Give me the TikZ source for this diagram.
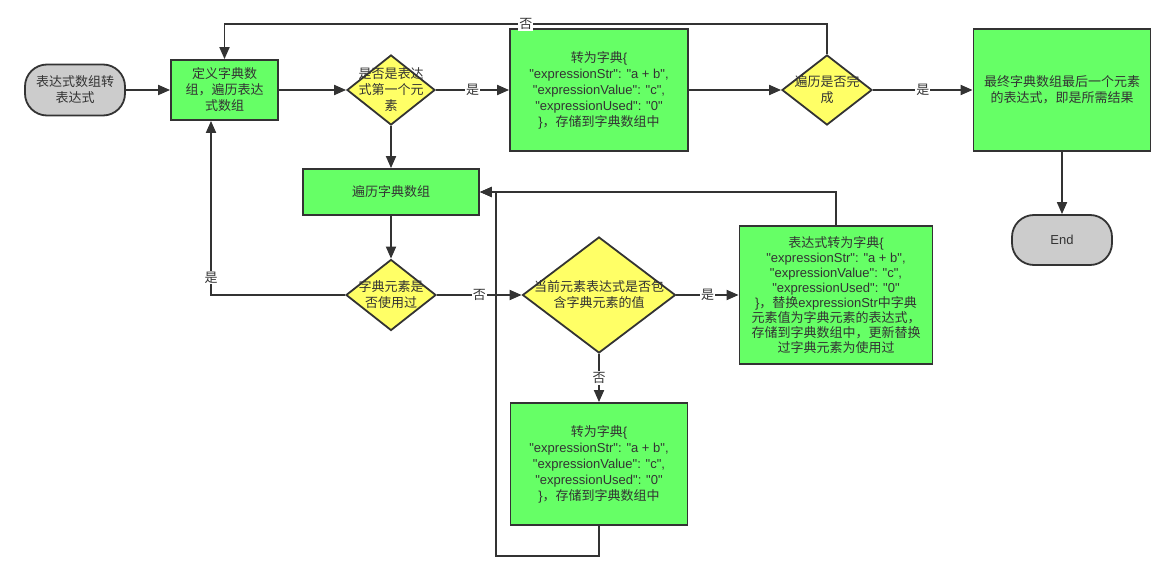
\documentclass[tikz,border=0pt]{standalone}
\usepackage{fontspec}
\setmainfont{Liberation Sans}[Ligatures=TeXOff]
\newfontfamily\cjk{Noto Sans CJK SC}
\newcommand{\C}[1]{{\cjk #1}}
\usetikzlibrary{arrows.meta,shapes.geometric}
\definecolor{gfill}{HTML}{66FF66}
\definecolor{yfill}{HTML}{FFFF66}
\definecolor{tfill}{HTML}{CCCCCC}
\definecolor{linec}{HTML}{333333}
\begin{document}
\begin{tikzpicture}[x=1pt,y=-1pt,
  font=\fontsize{13}{16}\selectfont, text=linec,
  every node/.style={line width=1.8pt, draw=linec, align=center, inner sep=0pt},
  term/.style={rectangle, rounded corners=22pt, fill=tfill},
  proc/.style={rectangle, fill=gfill},
  dia/.style={diamond, fill=yfill},
  arr/.style={draw=linec, line width=1.8pt, -{Triangle[length=12pt,width=10pt]}},
  elabel/.style={draw=none, fill=white, inner sep=1pt, font=\fontsize{13}{16}\selectfont}
]
\useasboundingbox (0,0) rectangle (1173,580);

\node[term, minimum width=100pt, minimum height=51pt] (start) at (75,90) {\C{表达式数组转}\\\C{表达式}};
\node[proc, minimum width=107pt, minimum height=60pt] (define) at (224.5,90) {\C{定义字典数}\\\C{组，遍历表达}\\\C{式数组}};
\node[dia, minimum width=88pt, minimum height=70pt,
  label={[draw=none,align=center]center:{\C{是否是表达}\\\C{式第一个元}\\\C{素}}}] (d1) at (391,90) {};
\node[proc, minimum width=178pt, minimum height=122pt] (conv1) at (599,90)
  {\C{转为字典}\{\\"expressionStr": "a + b",\\"expressionValue": "c",\\"expressionUsed": "0"\\\}\C{，存储到字典数组中}};
\node[dia, minimum width=90pt, minimum height=70pt,
  label={[draw=none,align=center]center:{\C{遍历是否完}\\\C{成}}}] (d2) at (827,90) {};
\node[proc, minimum width=177pt, minimum height=122pt] (final) at (1062,90)
  {\C{最终字典数组最后一个元素}\\\C{的表达式，即是所需结果}};
\node[term, minimum width=100pt, minimum height=50pt] (end) at (1062,240) {End};
\node[proc, minimum width=176pt, minimum height=46pt] (loop) at (391,192) {\C{遍历字典数组}};
\node[dia, minimum width=90pt, minimum height=71pt,
  label={[draw=none,align=center]center:{\C{字典元素是}\\\C{否使用过}}}] (d3) at (391,295) {};
\node[dia, minimum width=153pt, minimum height=116pt,
  label={[draw=none,align=center]center:{\C{当前元素表达式是否包}\\\C{含字典元素的值}}}] (d4) at (599,295) {};
\node[proc, minimum width=193pt, minimum height=138pt, font=\fontsize{13}{15}\selectfont] (right) at (836,295)
  {\C{表达式转为字典}\{\\"expressionStr": "a + b",\\"expressionValue": "c",\\"expressionUsed": "0"\\\}\C{，替换}expressionStr\C{中字典}\\\C{元素值为字典元素的表达式，}\\\C{存储到字典数组中，更新替换}\\\C{过字典元素为使用过}};
\node[proc, minimum width=177pt, minimum height=122pt] (conv2) at (599,464)
  {\C{转为字典}\{\\"expressionStr": "a + b",\\"expressionValue": "c",\\"expressionUsed": "0"\\\}\C{，存储到字典数组中}};

\draw[arr] (start) -- (define);
\draw[arr] (define) -- (d1);
\draw[arr] (d1) -- node[elabel]{\C{是}} (conv1);
\draw[arr] (conv1) -- (d2);
\draw[arr] (d2) -- node[elabel]{\C{是}} (final);
\draw[arr] (final) -- (end);
\draw[arr] (d2.north) |- node[elabel, pos=0.75]{\C{否}} ([yshift=35pt]define.north) -- (define.north);
\draw[arr] (d1) -- (loop);
\draw[arr] (loop) -- (d3);
\draw[arr] (d3) -- node[elabel]{\C{否}} (d4);
\draw[arr] (d4) -- node[elabel]{\C{是}} (right);
\draw[arr] (d4) -- node[elabel]{\C{否}} (conv2);
\draw[arr] (d3.west) -| node[elabel, pos=0.55]{\C{是}} ([xshift=-13.5pt]define.south);
\draw[arr] (right.north) |- (loop.east);
\draw[arr] (conv2.south) |- ([xshift=-103pt,yshift=-30pt]conv2.south) |- (loop.east);
\end{tikzpicture}
\end{document}
